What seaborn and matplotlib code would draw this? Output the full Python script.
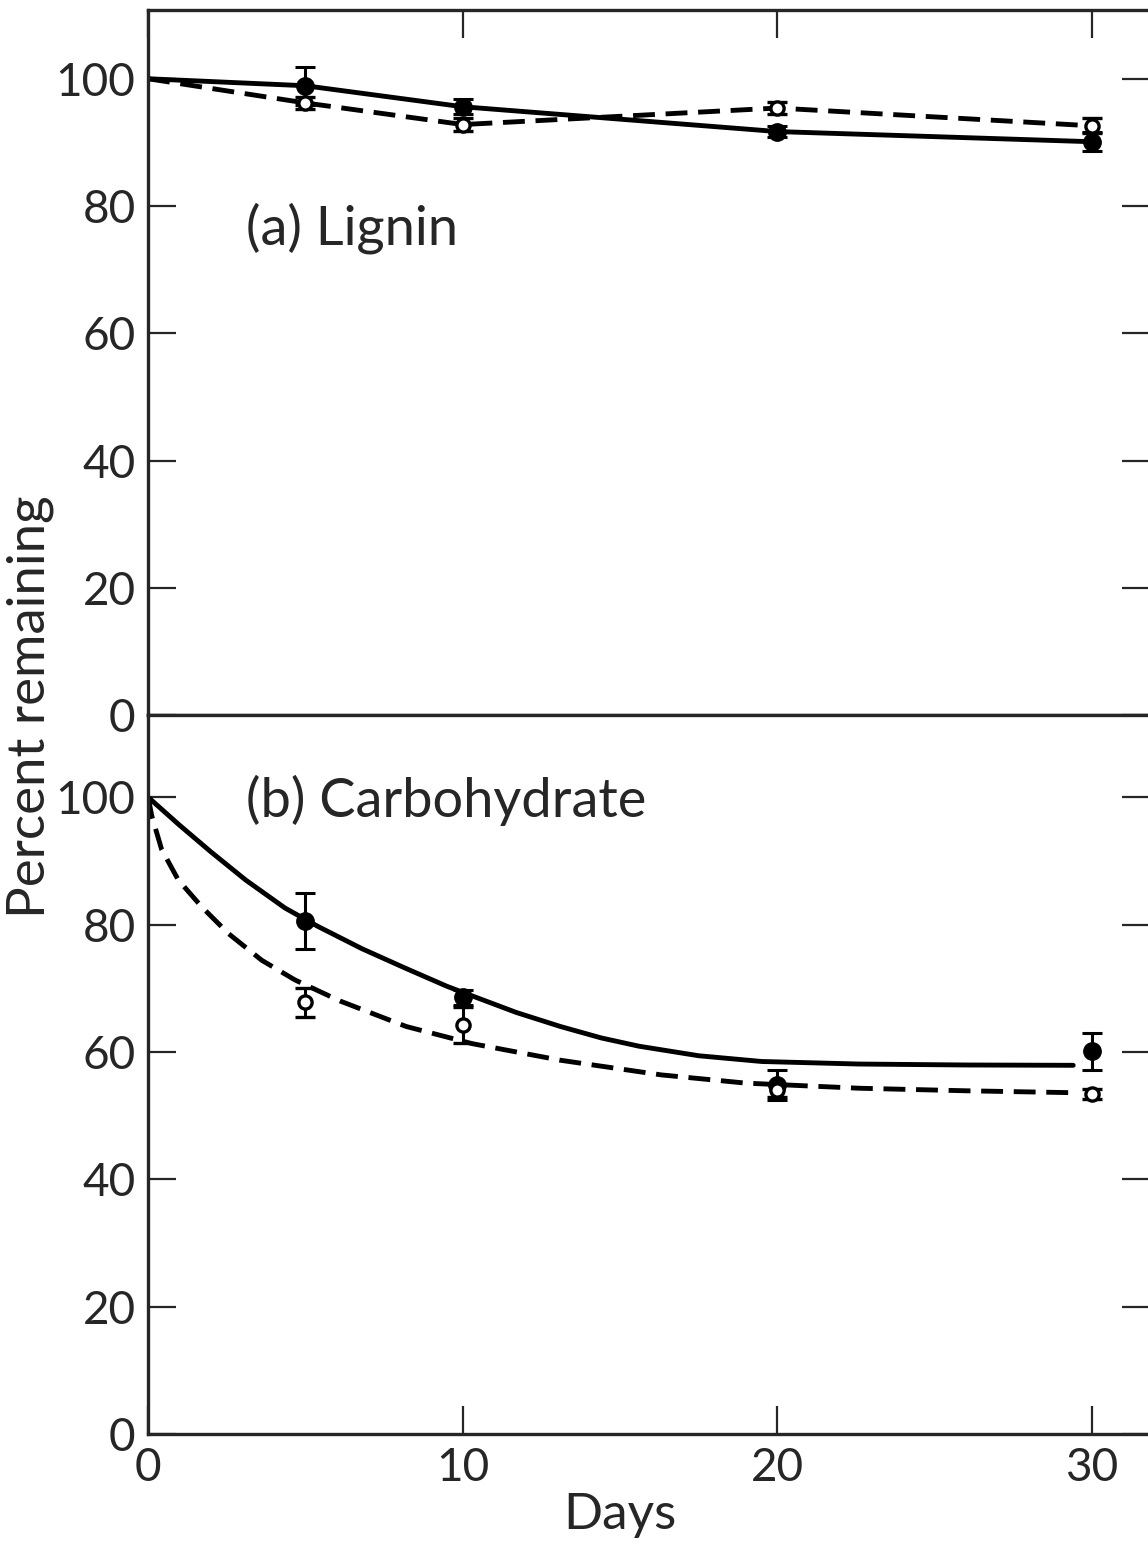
import numpy as np
import pandas as pd
import seaborn as sns
import matplotlib.pyplot as plt

# (a) lignin, straight segments between the means
days = [0, 5, 10, 20, 30]
lignin_filled = [100, 98.9, 95.6, 91.7, 90.1]
lignin_filled_err = [0, 3.0, 1.2, 0.8, 1.5]
lignin_open = [100, 96.2, 92.8, 95.4, 92.6]
lignin_open_err = [0, 1.0, 1.0, 1.0, 1.2]

# (b) carbohydrate points
carb_days = [5, 10, 20, 30]
carb_filled = [80.5, 68.6, 54.8, 60.1]
carb_filled_err = [4.4, 1.2, 2.4, 2.9]
carb_open = [67.8, 64.2, 54.0, 53.4]
carb_open_err = [2.3, 2.8, 1.0, 0.8]

# (b) fitted curves
solid_curve_x = [0, 1.0, 2.0, 3.1, 4.35, 5.4, 6.8, 8.2, 9.5, 10.3, 11.7, 13.1,
                 14.4, 15.6, 17.5, 19.5, 22.6, 26.0, 29.4]
solid_curve_y = [100, 95.6, 91.4, 87.0, 82.6, 79.7, 76.2, 73.1, 70.3, 68.8, 66.2,
                 64.0, 62.2, 60.9, 59.4, 58.5, 58.1, 57.95, 57.9]
dashed_curve_x = [0, 0.12, 0.43, 0.96, 1.7, 2.55, 3.61, 4.67, 6.1, 8.2, 10.3,
                  13.1, 16.3, 19.0, 22.6, 26.0, 29.4]
dashed_curve_y = [100, 97.0, 91.8, 87.0, 82.8, 78.6, 74.4, 71.3, 68.0, 64.0, 61.3,
                  58.7, 56.4, 55.1, 54.3, 53.9, 53.6]

sns.set_style("ticks")
plt.rcParams['font.family'] = ['Lato', 'DejaVu Sans']

fig = plt.figure(figsize=(11.48, 15.44), dpi=100)
ax_top = fig.add_axes([0.129, 0.5369, 0.873, 0.4566])
ax_bot = fig.add_axes([0.129, 0.0712, 0.873, 0.4657])

dash = (0, (4.5, 2.2))
lw = 3.5


def draw_points(ax, x, y, err, filled):
    if filled:
        ax.errorbar(x, y, yerr=err, fmt='o', color='black', ms=12.5,
                    elinewidth=2.2, capsize=7, capthick=2.2, zorder=4)
    else:
        ax.errorbar(x, y, yerr=err, fmt='o', color='black', mfc='white',
                    mec='black', mew=2.4, ms=9.5, elinewidth=2.2, capsize=7,
                    capthick=2.2, zorder=5)


# top panel
sns.lineplot(x=days, y=lignin_filled, ax=ax_top, color='black', lw=lw,
             estimator=None, sort=False)
sns.lineplot(x=days, y=lignin_open, ax=ax_top, color='black', lw=lw,
             linestyle=dash, estimator=None, sort=False)
draw_points(ax_top, days[1:], lignin_filled[1:], lignin_filled_err[1:], True)
draw_points(ax_top, days[1:], lignin_open[1:], lignin_open_err[1:], False)
ax_top.text(3.1, 76.5, '(a) Lignin', fontsize=39, va='center', ha='left')

# bottom panel
sns.lineplot(x=solid_curve_x, y=solid_curve_y, ax=ax_bot, color='black',
             lw=lw, estimator=None, sort=False)
sns.lineplot(x=dashed_curve_x, y=dashed_curve_y, ax=ax_bot, color='black',
             lw=lw, linestyle=dash, estimator=None, sort=False)
draw_points(ax_bot, carb_days, carb_filled, carb_filled_err, True)
draw_points(ax_bot, carb_days, carb_open, carb_open_err, False)
ax_bot.text(3.1, 99.5, '(b) Carbohydrate', fontsize=39, va='center', ha='left')

for ax, ytop in [(ax_top, 110.8), (ax_bot, 112.9)]:
    ax.set_xlim(0, 31.85)
    ax.set_ylim(0, ytop)
    ax.set_yticks([0, 20, 40, 60, 80, 100])
    ax.set_xticks([0, 10, 20, 30])
    ax.set_xlabel('')
    ax.set_ylabel('')
    for s in ax.spines.values():
        s.set_linewidth(2.4)
        s.set_visible(True)
    ax.tick_params(direction='in', length=20, width=1.6, labelsize=33,
                   right=True, labelright=False, pad=9)

ax_top.tick_params(axis='x', top=True, bottom=False, labelbottom=False)
ax_bot.tick_params(axis='x', top=False, bottom=True, labelbottom=True)

fig.text(30 / 1148, 1 - 707 / 1544, 'Percent remaining', rotation=90,
         fontsize=38, ha='center', va='center')
fig.text(620 / 1148, 1 - 1515 / 1544, 'Days', fontsize=37,
         ha='center', va='center')

fig.savefig('out.png', dpi=100)
